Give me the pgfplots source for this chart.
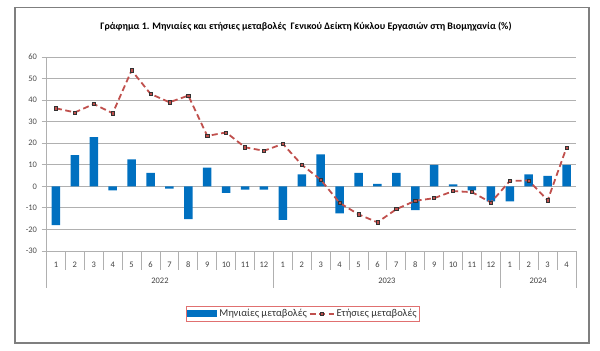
\documentclass[border=0pt]{standalone}
\usepackage{pgfplots}
\pgfplotsset{compat=1.18}
\usepackage{fontspec}
\setmainfont{Carlito}
\definecolor{barblue}{HTML}{0070C0}
\definecolor{linered}{HTML}{C0504D}
\definecolor{gridgray}{HTML}{B0B0B0}
\definecolor{framegray}{HTML}{7F7F7F}
\definecolor{legred}{HTML}{E07070}
\begin{document}
\begin{tikzpicture}
\path[use as bounding box] (0,0) rectangle (600bp,-351bp);
\draw[framegray, line width=1.2bp] (15bp,-7.5bp) rectangle (589bp,-343bp);
\node[font=\fontsize{10}{12}\selectfont\bfseries] at (306bp,-27bp)
  {Γράφημα 1. Μηνιαίες και ετήσιες μεταβολές \ Γενικού Δείκτη Κύκλου Εργασιών στη Βιομηχανία (\%)};
\begin{axis}[
  at={(46.5bp,-251bp)}, anchor=south west,
  scale only axis, width=529.5bp, height=194bp,
  xmin=0.5, xmax=28.5, ymin=-30, ymax=60,
  clip=false,
  axis x line=none,
  axis y line*=left,
  y axis line style={gridgray, line width=0.8bp, -},
  ytick={-30,-20,...,60},
  ymajorgrids,
  major grid style={gridgray, line width=0.8bp},
  ytick style={gridgray, line width=0.8bp},
  tick align=outside, major tick length=5bp,
  yticklabel style={font=\fontsize{8.5}{10}\selectfont, text=black!70, xshift=-1bp},
  /pgf/number format/assume math mode=true,
  legend columns=2,
  legend style={at={(0.4844,-0.3247)}, anchor=center, draw=legred, line width=0.8bp,
    font=\fontsize{10.5}{12}\selectfont, text=black!80, inner sep=1.2bp,
    /tikz/every even column/.append style={column sep=0bp}},
  legend cell align=left,
]
\addplot[ybar, bar width=8.5bp, fill=barblue, draw=none,
  legend image code/.code={\fill[barblue] (0bp,-3.5bp) rectangle (30bp,3.5bp);}]
  table[x=x,y=y] {
x y
1 -18
2 14.5
3 22.8
4 -1.9
5 12.5
6 6.2
7 -1.1
8 -15.2
9 8.7
10 -3
11 -1.5
12 -1.5
13 -15.6
14 5.5
15 14.8
16 -12.5
17 6.2
18 1.2
19 6.2
20 -11
21 10
22 0.9
23 -1.9
24 -7
25 -7
26 5.5
27 4.8
28 10
};
\addlegendentry{Μηνιαίες μεταβολές}
\addplot[linered, line width=1.8bp, dash pattern=on 6bp off 3.5bp,
  mark=square*, mark size=1.6bp,
  mark options={solid, fill=linered, draw=black!80, line width=0.6bp},
  legend image code/.code={\draw[linered, line width=1.8bp, dash pattern=on 6bp off 3.5bp] (0bp,0bp) -- (24bp,0bp);
    \draw[solid, fill=linered, draw=black!80, line width=0.6bp] (10.4bp,-1.6bp) rectangle (13.6bp,1.6bp);}]
  table[x=x,y=y] {
x y
1 36.2
2 34.3
3 38.2
4 33.9
5 53.8
6 42.9
7 39
8 42.1
9 23.4
10 25
11 18.1
12 16.5
13 19.7
14 10
15 3.1
16 -7.7
17 -13
18 -16.7
19 -10.6
20 -6.7
21 -5.5
22 -2.2
23 -2.7
24 -7.5
25 2.5
26 2.7
27 -6.5
28 18
};
\addlegendentry{Ετήσιες μεταβολές}
% category axis table
\draw[gridgray, line width=0.8bp] (axis cs:0.5,-30) -- (axis cs:28.5,-30);
\pgfplotsinvokeforeach{1.5,2.5,3.5,4.5,5.5,6.5,7.5,8.5,9.5,10.5,11.5,13.5,14.5,15.5,16.5,17.5,18.5,19.5,20.5,21.5,22.5,23.5,25.5,26.5,27.5}{
  \draw[gridgray, line width=0.8bp] (axis cs:#1,-30) -- ([yshift=-18.5bp]axis cs:#1,-30);
}
\pgfplotsinvokeforeach{0.5,12.5,24.5,28.5}{
  \draw[gridgray, line width=0.8bp] (axis cs:#1,-30) -- ([yshift=-36.5bp]axis cs:#1,-30);
}
\pgfplotsinvokeforeach{1,...,12}{
  \node[font=\fontsize{8.5}{10}\selectfont, text=black!75] at ([yshift=-13.5bp]axis cs:#1,-30) {#1};
}
\pgfplotsinvokeforeach{1,...,12}{
  \node[font=\fontsize{8.5}{10}\selectfont, text=black!75] at ([yshift=-13.5bp]axis cs:#1+12,-30) {#1};
}
\pgfplotsinvokeforeach{1,...,4}{
  \node[font=\fontsize{8.5}{10}\selectfont, text=black!75] at ([yshift=-13.5bp]axis cs:#1+24,-30) {#1};
}
\node[font=\fontsize{8.5}{10}\selectfont, text=black!75] at ([yshift=-30bp]axis cs:6.5,-30) {2022};
\node[font=\fontsize{8.5}{10}\selectfont, text=black!75] at ([yshift=-30bp]axis cs:18.5,-30) {2023};
\node[font=\fontsize{8.5}{10}\selectfont, text=black!75] at ([yshift=-30bp]axis cs:26.5,-30) {2024};
\end{axis}
\end{tikzpicture}
\end{document}
